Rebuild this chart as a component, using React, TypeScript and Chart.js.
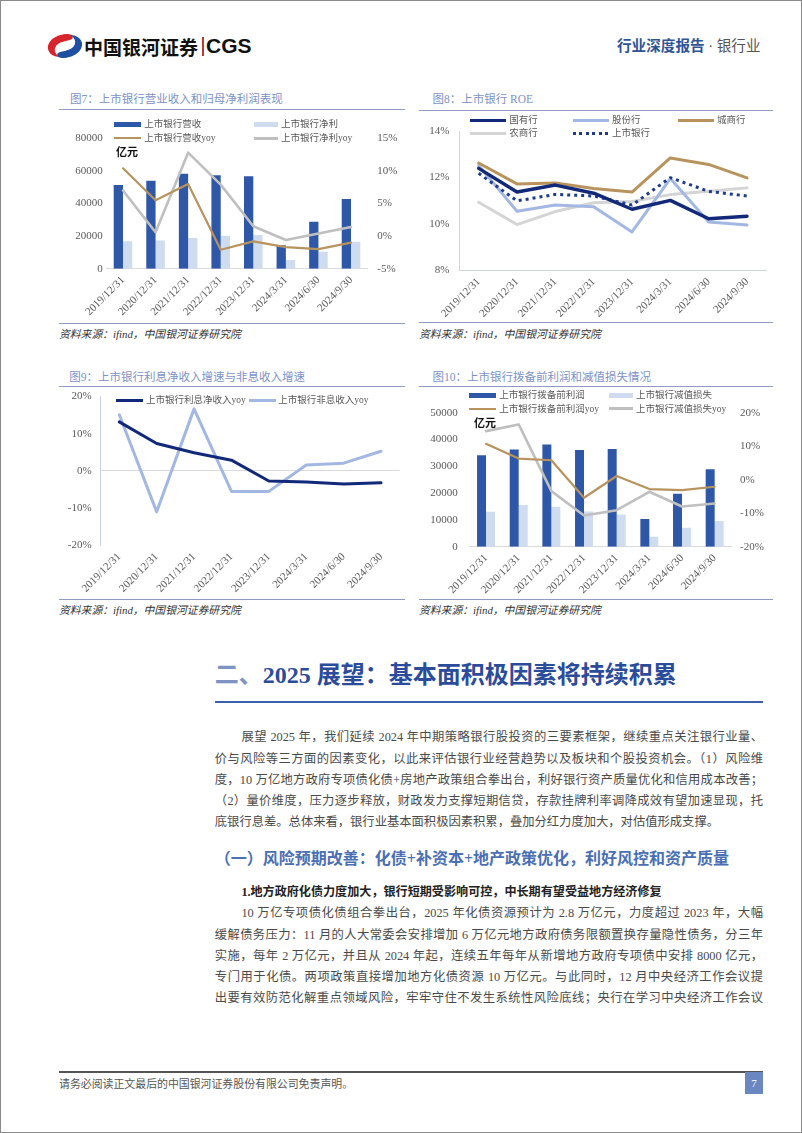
import React, { useEffect, useRef } from "react";
import { Chart, registerables } from "chart.js";
Chart.register(...registerables);

if (typeof document !== "undefined") {
  document.body.style.margin = "0";
}

// ---------- data ----------
const periods = ["2019/12/31", "2020/12/31", "2021/12/31", "2022/12/31", "2023/12/31", "2024/3/31", "2024/6/30", "2024/9/30"];

// 图7
const revenue = [51300, 54000, 58300, 57300, 56700, 14400, 28800, 42800];
const netProfit = [16800, 17300, 18800, 20200, 20700, 5300, 10400, 16600];
const revenueYoy = [10.4, 5.5, 8.0, -2.1, -0.8, -1.7, -2.0, -1.0];
const netProfitYoy = [7.0, 0.6, 12.8, 7.9, 1.5, -0.6, 0.4, 1.4];

// 图8 ROE (%)
const roeState = [12.39, 11.37, 11.67, 11.32, 10.63, 11.01, 10.22, 10.33];
const roeJointStock = [12.52, 10.54, 10.81, 10.74, 9.65, 11.95, 10.08, 9.95];
const roeCity = [12.62, 11.72, 11.76, 11.52, 11.37, 12.84, 12.56, 11.98];
const roeRural = [10.93, 9.97, 10.53, 10.91, 10.96, 11.26, 11.4, 11.55];
const roeListed = [12.18, 10.99, 11.27, 11.2, 10.81, 11.99, 11.4, 11.2];

// 图9 (%)
const netInterestYoy = [13.2, 7.4, 4.9, 2.9, -2.7, -3.0, -3.5, -3.2];
const nonInterestYoy = [15.1, -11.0, 16.7, -5.5, -5.5, 1.6, 2.1, 5.3];

// 图10
const ppop = [34080, 36300, 38180, 36070, 36440, 10320, 19780, 28860];
const impairment = [13060, 15550, 14930, 13180, 12060, 3730, 7090, 9580];
const ppopYoy = [10.7, 6.3, 5.8, -5.4, 1.1, -2.8, -3.1, -2.1];
const impairmentYoy = [14.5, 16.5, -3.4, -10.7, -9.1, -3.6, -8.0, -7.1];

// tick ranges
const fig7Left = { min: 0, max: 80000, step: 20000 };
const fig7Right = { min: -5, max: 15, step: 5 };
const fig8Axis = { min: 8, max: 14, step: 2 };
const fig9Axis = { min: -20, max: 20, step: 10 };
const fig10Left = { min: 0, max: 50000, step: 10000 };
const fig10Right = { min: -20, max: 20, step: 10 };

// ---------- styles ----------
const SERIF = '"Liberation Serif", "Noto Sans CJK SC", serif';
const CJK = '"Noto Sans CJK SC", sans-serif';
const TICK = { family: '"Liberation Serif", serif', size: 11 };
const TICK_COLOR = "#595959";

const C_DARK = "#2E57A7";
const C_LIGHT = "#CFDBEF";
const C_GOLD = "#B8935E";
const C_GRAY = "#BFBFBF";
const C_NAVY = "#12297A";
const C_SKY = "#A3B7E3";
const C_RURAL = "#D4D4D4";
const C_LISTED = "#1E3A8A";

const pct = (v: any) => v + "%";
const plain = (v: any) => String(v);

function xAxis(h: number, border: string | null, pad = 5) {
  return {
    type: "category" as const,
    offset: true,
    grid: { display: false, drawTicks: false },
    border: border ? { display: true, color: border, width: 1 } : { display: false },
    ticks: { font: TICK, color: TICK_COLOR, minRotation: 45, maxRotation: 45, autoSkip: false, padding: pad },
    afterFit: (s: any) => {
      s.height = h;
    },
  };
}

function yAxis(position: string, r: any, w: number, pad: number, fmt: any, extra: any = {}) {
  return {
    position,
    min: r.min,
    max: r.max,
    grid: { display: false, drawTicks: false },
    border: { display: false },
    ticks: { stepSize: r.step, font: TICK, color: TICK_COLOR, padding: pad, callback: fmt },
    afterFit: (s: any) => {
      s.width = w;
    },
    ...extra,
  };
}

const baseOpts = (padding: any) => ({
  responsive: false,
  animation: false as const,
  events: [] as any[],
  layout: { padding },
  plugins: { legend: { display: false }, tooltip: { enabled: false } },
});

const lineDs = (label: string, data: number[], color: string, width: number, axis: string, order: number, dash?: number[]) => ({
  type: "line" as const,
  label,
  data,
  borderColor: color,
  backgroundColor: color,
  borderWidth: width,
  pointRadius: 0,
  tension: 0,
  yAxisID: axis,
  order,
  borderDash: dash || [],
  borderCapStyle: dash ? ("butt" as const) : ("round" as const),
  borderJoinStyle: "round" as const,
});

const barDs = (label: string, data: number[], color: string, cp: number) => ({
  type: "bar" as const,
  label,
  data,
  backgroundColor: color,
  yAxisID: "y",
  order: 5,
  categoryPercentage: cp,
  barPercentage: 1,
});

const fig7Config = (): any => ({
  type: "bar",
  data: {
    labels: periods,
    datasets: [
      barDs("上市银行营收", revenue, C_DARK, 0.57),
      barDs("上市银行净利", netProfit, C_LIGHT, 0.57),
      lineDs("上市银行营收yoy", revenueYoy, C_GOLD, 2.2, "y1", 1),
      lineDs("上市银行净利yoy", netProfitYoy, C_GRAY, 2.6, "y1", 2),
    ],
  },
  options: {
    ...baseOpts({ top: 25.3, left: 0, right: 0, bottom: 0 }),
    scales: {
      x: xAxis(52.3, "#D9D9D9"),
      y: yAxis("left", fig7Left, 45.7, 4, plain),
      y1: yAxis("right", fig7Right, 33.7, 10, pct),
    },
  },
});

const fig8Config = (): any => ({
  type: "line",
  data: {
    labels: periods,
    datasets: [
      lineDs("农商行", roeRural, C_RURAL, 3, "y", 5),
      lineDs("股份行", roeJointStock, C_SKY, 3, "y", 4),
      lineDs("城商行", roeCity, C_GOLD, 3, "y", 3),
      lineDs("上市银行", roeListed, C_LISTED, 3, "y", 2, [3, 4]),
      lineDs("国有行", roeState, C_NAVY, 3.5, "y", 1),
    ],
  },
  options: {
    ...baseOpts({ top: 18, left: 0, right: 8.8, bottom: 0 }),
    scales: {
      x: xAxis(50.7, "#D0D4DE"),
      y: yAxis("left", fig8Axis, 40.5, 10, pct, { border: { display: true, color: "#D0D4DE", width: 1 } }),
    },
  },
});

const fig9Config = (): any => ({
  type: "line",
  data: {
    labels: periods,
    datasets: [
      lineDs("上市银行非息收入yoy", nonInterestYoy, C_SKY, 3, "y", 2),
      lineDs("上市银行利息净收入yoy", netInterestYoy, C_NAVY, 3, "y", 1),
    ],
  },
  options: {
    ...baseOpts({ top: 14.3, left: 0, right: 6.3, bottom: 0 }),
    scales: {
      x: xAxis(51.7, null),
      y: yAxis("left", fig9Axis, 39.6, 9, pct, {
        border: { display: true, color: "#C8D0E2", width: 1 },
        grid: {
          display: true,
          drawTicks: false,
          lineWidth: 1,
          color: (ctx: any) => (ctx.tick && ctx.tick.value === 0 ? "#D9D9D9" : "rgba(0,0,0,0)"),
        },
      }),
    },
  },
});

const fig10Config = (): any => ({
  type: "bar",
  data: {
    labels: periods,
    datasets: [
      barDs("上市银行拨备前利润", ppop, C_DARK, 0.55),
      barDs("上市银行减值损失", impairment, C_LIGHT, 0.55),
      lineDs("上市银行拨备前利润yoy", ppopYoy, C_GOLD, 2.2, "y1", 1),
      lineDs("上市银行减值损失yoy", impairmentYoy, C_GRAY, 2.6, "y1", 2),
    ],
  },
  options: {
    ...baseOpts({ top: 23.7, left: 0, right: 0, bottom: 0 }),
    scales: {
      x: xAxis(50.3, "#D9D9D9"),
      y: yAxis("left", fig10Left, 50.7, 12, plain),
      y1: yAxis("right", fig10Right, 44, 9, pct),
    },
  },
});

// ---------- components ----------
function ChartCanvas({ left, top, width, height, config }: any) {
  const ref = useRef<HTMLCanvasElement>(null);
  useEffect(() => {
    const chart = new Chart(ref.current as HTMLCanvasElement, config());
    return () => chart.destroy();
  }, []);
  return (
    <canvas
      ref={ref}
      width={width}
      height={height}
      style={{ position: "absolute", left, top, width, height, display: "block" }}
    />
  );
}

function HLine({ x1, x2, y, color, h = 1 }: any) {
  return <div style={{ position: "absolute", left: x1, top: y - h / 2, width: x2 - x1, height: h, background: color }} />;
}

function Text({ x, y, size, color, children, bold = false, italic = false, family = SERIF }: any) {
  const lh = Math.round(size * 1.5);
  return (
    <div
      style={{
        position: "absolute",
        left: x,
        top: y - lh / 2,
        height: lh,
        lineHeight: lh + "px",
        fontSize: size,
        color,
        fontWeight: bold ? 700 : 400,
        fontStyle: italic ? "italic" : "normal",
        fontFamily: family,
        whiteSpace: "nowrap",
      }}
    >
      {children}
    </div>
  );
}

function Leg({ x1, x2, y, color, thick, dotted = false, label, tx }: any) {
  return (
    <>
      <div
        style={{
          position: "absolute",
          left: x1,
          top: y - thick / 2,
          width: x2 - x1,
          height: thick,
          background: dotted
            ? `repeating-linear-gradient(90deg, ${color} 0 3px, rgba(0,0,0,0) 3px 6.5px)`
            : color,
        }}
      />
      <Text x={tx} y={y} size={9.5} color="#595959">
        {label}
      </Text>
    </>
  );
}

function ChartFrame({ x1, x2, titleX, titleY, title, lineY, srcLineY, srcY }: any) {
  return (
    <>
      <Text x={titleX} y={titleY} size={11.5} color="#7D92C5">
        {title}
      </Text>
      <HLine x1={x1} x2={x2} y={lineY} color="#8E9CC2" />
      <HLine x1={x1} x2={x2} y={srcLineY} color="#8E9CC2" />
      <Text x={x1} y={srcY} size={10.8} color="#333" italic>
        资料来源：ifind，中国银河证券研究院
      </Text>
    </>
  );
}

const BODY_LEFT = 213.8;
const BODY_W = 548.2;

function JLine({ cy, indent = 0, last = false, children }: any) {
  return (
    <div
      style={{
        position: "absolute",
        left: BODY_LEFT + indent,
        top: cy - 10.5,
        width: BODY_W - indent,
        height: 21,
        lineHeight: "21px",
        fontSize: 12.3,
        color: "#4a4a4a",
        fontFamily: SERIF,
        textAlign: "justify",
        textAlignLast: last ? "left" : "justify",
        overflow: "hidden",
      }}
    >
      {children}
    </div>
  );
}

function Logo() {
  return (
    <svg width="38" height="26" viewBox="0 0 38 26" style={{ position: "absolute", left: 45, top: 32 }}>
      <path d="M22 1 C10 1 1 8 2 16 C3 21 8 24 14 24 C8 21 7 15 12 11 C16 8 22 8 26 6 C28 4 26 1 22 1 Z" fill="#D7262B" />
      <path d="M16 25 C28 25 37 18 36 10 C35 5 30 2 24 2 C30 5 31 11 26 15 C22 18 16 18 12 20 C10 22 12 25 16 25 Z" fill="#1E4FA0" />
    </svg>
  );
}

export default function App() {
  const p1 = [
    "展望 2025 年，我们延续 2024 年中期策略银行股投资的三要素框架，继续重点关注银行业量、",
    "价与风险等三方面的因素变化，以此来评估银行业经营趋势以及板块和个股投资机会。（1）风险维",
    "度，10 万亿地方政府专项债化债+房地产政策组合拳出台，利好银行资产质量优化和信用成本改善；",
    "（2）量价维度，压力逐步释放，财政发力支撑短期信贷，存款挂牌利率调降成效有望加速显现，托",
    "底银行息差。总体来看，银行业基本面积极因素积累，叠加分红力度加大，对估值形成支撑。",
  ];
  const p2 = [
    "10 万亿专项债化债组合拳出台，2025 年化债资源预计为 2.8 万亿元，力度超过 2023 年，大幅",
    "缓解债务压力：11 月的人大常委会安排增加 6 万亿元地方政府债务限额置换存量隐性债务，分三年",
    "实施，每年 2 万亿元，并且从 2024 年起，连续五年每年从新增地方政府专项债中安排 8000 亿元，",
    "专门用于化债。两项政策直接增加地方化债资源 10 万亿元。与此同时，12 月中央经济工作会议提",
    "出要有效防范化解重点领域风险，牢牢守住不发生系统性风险底线；央行在学习中央经济工作会议",
  ];
  return (
    <div
      style={{
        position: "relative",
        width: 802,
        height: 1133,
        boxSizing: "border-box",
        border: "1px solid #8a8a8a",
        background: "#fff",
        overflow: "hidden",
        fontFamily: SERIF,
      }}
    >
      {/* header */}
      <Logo />
      <Text x={83} y={45} size={19} color="#111" bold family={CJK}>
        中国银河证券
      </Text>
      <div style={{ position: "absolute", left: 201, top: 36, width: 1.5, height: 19, background: "#C0392B" }} />
      <Text x={205} y={45} size={21} color="#111" bold family='"Liberation Sans", Arial, sans-serif'>
        CGS
      </Text>
      <div style={{ position: "absolute", left: 616, top: 34, height: 22, lineHeight: "22px", fontSize: 14.6, fontFamily: SERIF, whiteSpace: "nowrap" }}>
        <span style={{ color: "#2F5597", fontWeight: 700 }}>行业深度报告</span>
        <span style={{ color: "#555" }}> · 银行业</span>
      </div>

      {/* chart frames */}
      <ChartFrame x1={58} x2={404} titleX={69} titleY={98} title="图7：上市银行营业收入和归母净利润表现" lineY={108.5} srcLineY={322.3} srcY={333} />
      <ChartFrame x1={418} x2={772} titleX={431.5} titleY={98} title="图8：上市银行 ROE" lineY={109} srcLineY={321.7} srcY={333.3} />
      <ChartFrame x1={58} x2={404} titleX={68.3} titleY={376} title="图9：上市银行利息净收入增速与非息收入增速" lineY={385.3} srcLineY={598} srcY={608.5} />
      <ChartFrame x1={418} x2={772} titleX={431.5} titleY={376} title="图10：上市银行拨备前利润和减值损失情况" lineY={385.3} srcLineY={598.3} srcY={608.5} />

      {/* charts */}
      <ChartCanvas left={60} top={112} width={340} height={208} config={fig7Config} />
      <ChartCanvas left={418} top={112} width={356} height={208} config={fig8Config} />
      <ChartCanvas left={60} top={380} width={345} height={216} config={fig9Config} />
      <ChartCanvas left={418} top={388} width={356} height={208} config={fig10Config} />

      {/* legends fig7 */}
      <Leg x1={113} x2={140} y={123} color={C_DARK} thick={5} label="上市银行营收" tx={143.3} />
      <Leg x1={252.7} x2={276.7} y={123} color={C_LIGHT} thick={5} label="上市银行净利" tx={280} />
      <Leg x1={113} x2={140} y={137.3} color={C_GOLD} thick={2} label="上市银行营收yoy" tx={143.3} />
      <Leg x1={252.7} x2={276.7} y={137.3} color={C_GRAY} thick={2.5} label="上市银行净利yoy" tx={280} />
      <Text x={115} y={150} size={11} color="#111" bold family={CJK}>
        亿元
      </Text>

      {/* legends fig8 */}
      <Leg x1={469} x2={505} y={119.3} color={C_NAVY} thick={3.5} label="国有行" tx={508.3} />
      <Leg x1={571.7} x2={607.7} y={119.3} color={C_SKY} thick={3} label="股份行" tx={611} />
      <Leg x1={676.7} x2={712.7} y={119.3} color={C_GOLD} thick={3} label="城商行" tx={716} />
      <Leg x1={469} x2={505} y={132} color={C_RURAL} thick={3} label="农商行" tx={508.3} />
      <Leg x1={571.7} x2={607.7} y={132} color={C_LISTED} thick={3} dotted label="上市银行" tx={611} />

      {/* legends fig9 */}
      <Leg x1={115} x2={141.7} y={399} color={C_NAVY} thick={3} label="上市银行利息净收入yoy" tx={145} />
      <Leg x1={248.3} x2={275} y={399} color={C_SKY} thick={3} label="上市银行非息收入yoy" tx={277.3} />

      {/* legends fig10 */}
      <Leg x1={468.3} x2={495} y={394.3} color={C_DARK} thick={5} label="上市银行拨备前利润" tx={498.3} />
      <Leg x1={607.7} x2={631.7} y={394.3} color={C_LIGHT} thick={5} label="上市银行减值损失" tx={635} />
      <Leg x1={468.3} x2={495} y={407.7} color={C_GOLD} thick={2} label="上市银行拨备前利润yoy" tx={498.3} />
      <Leg x1={607.7} x2={631.7} y={407.7} color={C_GRAY} thick={2.5} label="上市银行减值损失yoy" tx={635} />
      <Text x={473} y={421.7} size={11} color="#111" bold family={CJK}>
        亿元
      </Text>

      {/* section heading */}
      <div style={{ position: "absolute", left: 213.8, top: 656, height: 36, lineHeight: "36px", fontSize: 24, fontWeight: 700, fontFamily: SERIF, whiteSpace: "nowrap" }}>
        <span style={{ color: "#7D93C4" }}>二、</span>
        <span style={{ color: "#2B4C9B" }}>2025 展望：基本面积极因素将持续积累</span>
      </div>
      <HLine x1={213.8} x2={762} y={700.7} h={2} color="#3B5FAF" />

      {p1.map((t, i) => (
        <JLine key={"a" + i} cy={736.7 + i * 21.3} indent={i === 0 ? 26.6 : 0} last={i === p1.length - 1}>
          {t}
        </JLine>
      ))}

      <Text x={213.8} y={857.7} size={16} color="#4A6FB5" bold>
        （一）风险预期改善：化债+补资本+地产政策优化，利好风控和资产质量
      </Text>

      <Text x={240.4} y={890.7} size={12.1} color="#222" bold>
        1.地方政府化债力度加大，银行短期受影响可控，中长期有望受益地方经济修复
      </Text>

      {p2.map((t, i) => (
        <JLine key={"b" + i} cy={912.7 + i * 21.3} indent={i === 0 ? 26.6 : 0}>
          {t}
        </JLine>
      ))}

      {/* footer */}
      <HLine x1={58} x2={762} y={1071} h={1.5} color="#555" />
      <Text x={58} y={1083.3} size={10.9} color="#555">
        请务必阅读正文最后的中国银河证券股份有限公司免责声明。
      </Text>
      <div
        style={{
          position: "absolute",
          left: 744,
          top: 1071,
          width: 18,
          height: 22,
          background: "#6B87C0",
          color: "#fff",
          fontSize: 11,
          lineHeight: "22px",
          textAlign: "center",
          fontFamily: SERIF,
        }}
      >
        7
      </div>
    </div>
  );
}
